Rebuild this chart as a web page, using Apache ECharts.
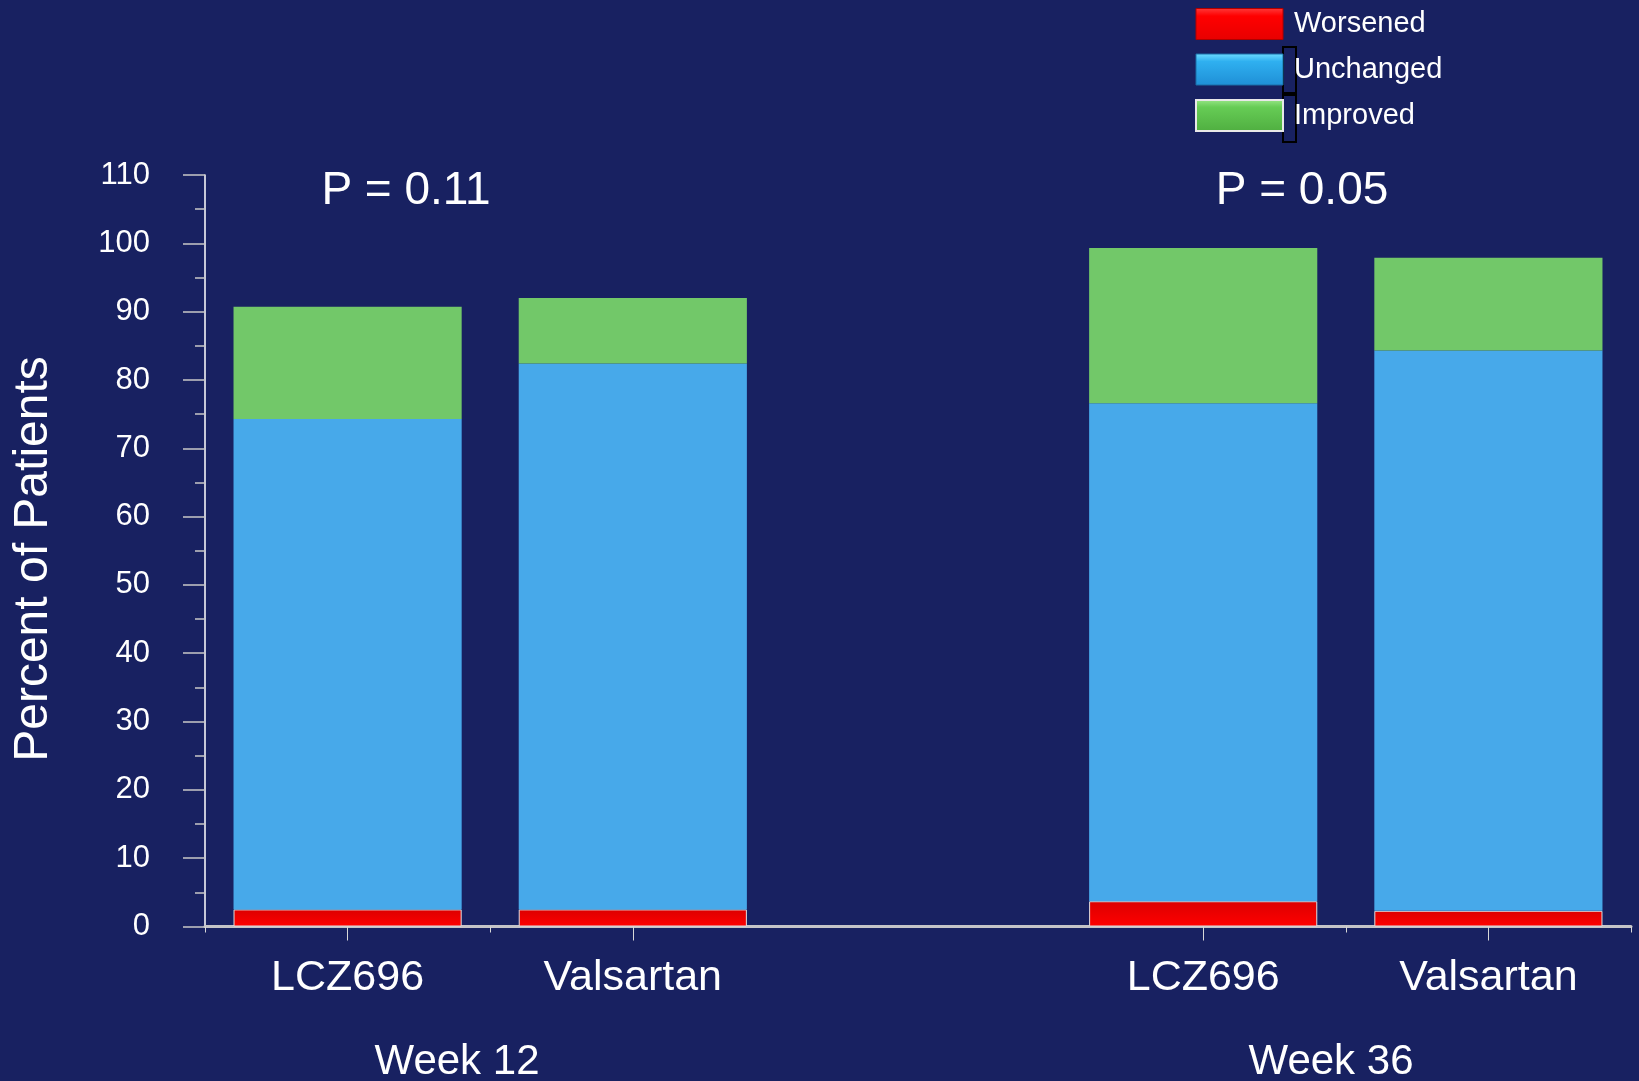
<!DOCTYPE html>
<html>
<head>
<meta charset="utf-8">
<script src="https://cdn.jsdelivr.net/npm/echarts@6/dist/echarts.min.js"></script>
<style>
  html, body { margin: 0; padding: 0; background: #182161; }
  #chart { width: 1639px; height: 1081px; }
</style>
</head>
<body>
<div id="chart"></div>
<script>
// Treatment arms (the blank slot separates the two visits)
const categories = ['LCZ696', 'Valsartan', '', 'LCZ696', 'Valsartan'];
const groupLabels = ['Week 12', 'Week 36'];
const pValues = ['P = 0.11', 'P = 0.05'];

// Percent of patients by change category
const worsened  = [2.5, 2.5, '-', 3.7, 2.3];
const unchanged = [71.8, 79.9, '-', 72.9, 82.0];
const improved  = [16.4, 9.6, '-', 22.7, 13.6];

const yTicks = { min: 0, max: 110, step: 10 };

const FONT = '"Liberation Sans", Arial, sans-serif';
const chart = echarts.init(document.getElementById('chart'));

const option = {
  backgroundColor: '#182161',
  animation: false,
  grid: { left: 205, right: 8, top: 175, bottom: 154.5, containLabel: false },
  legend: {
    orient: 'vertical',
    left: 1195,
    top: 8,
    padding: 0,
    itemWidth: 87,
    itemHeight: 31,
    itemGap: 13.5,
    textStyle: { color: '#ffffff', fontSize: 29, fontFamily: FONT, padding: [0, 0, 0, 6] },
    data: [
      { name: 'Worsened', icon: 'rect',
        itemStyle: { color: new echarts.graphic.LinearGradient(0, 0, 0, 1, [
          { offset: 0, color: '#ff3b3b' }, { offset: 0.25, color: '#ff0000' }, { offset: 1, color: '#e80000' }]),
          borderColor: '#b00000', borderWidth: 1 } },
      { name: 'Unchanged', icon: 'rect',
        itemStyle: { color: new echarts.graphic.LinearGradient(0, 0, 0, 1, [
          { offset: 0, color: '#6fdcff' }, { offset: 0.25, color: '#2fb0f0' }, { offset: 1, color: '#1f8fd6' }]),
          borderColor: '#1b6fa8', borderWidth: 1 } },
      { name: 'Improved', icon: 'rect',
        itemStyle: { color: new echarts.graphic.LinearGradient(0, 0, 0, 1, [
          { offset: 0, color: '#9be88a' }, { offset: 0.25, color: '#66cc55' }, { offset: 1, color: '#4fae40' }]),
          borderColor: '#e8e8e8', borderWidth: 2 } }
    ]
  },
  xAxis: [
    {
      type: 'category',
      data: categories,
      boundaryGap: true,
      axisLine: { show: true, lineStyle: { color: '#c4c4c8', width: 3 } },
      axisTick: {
        show: true, alignWithLabel: true, length: 14,
        interval: (idx, val) => val !== '',
        lineStyle: { color: '#d8d8d8', width: 1 }
      },
      axisLabel: { color: '#ffffff', fontSize: 43, fontFamily: FONT, margin: 30, interval: 0 },
      splitLine: { show: false }
    },
    {
      // boundary ticks between arms of the same visit
      type: 'value',
      min: 0, max: 5, interval: 1,
      position: 'bottom',
      axisLine: { show: false },
      axisTick: { show: true, length: 6, customValues: [0, 1, 4, 5], lineStyle: { color: '#d8d8d8', width: 1 } },
      axisLabel: { show: false },
      splitLine: { show: false }
    }
  ],
  yAxis: {
    type: 'value',
    min: yTicks.min, max: yTicks.max, interval: yTicks.step,
    axisLine: { show: true, lineStyle: { color: '#ffffff', width: 1.5 } },
    axisTick: { show: true, length: 22, lineStyle: { color: '#c8c8c8', width: 1.5 } },
    minorTick: { show: true, splitNumber: 2, length: 10, lineStyle: { color: '#c8c8c8', width: 1.5 } },
    axisLabel: { color: '#ffffff', fontSize: 31, fontFamily: FONT, margin: 55 },
    splitLine: { show: false }
  },
  series: [
    {
      name: 'Worsened', type: 'bar', stack: 'total', barWidth: '80%',
      data: worsened,
      itemStyle: {
        color: new echarts.graphic.LinearGradient(0, 0, 0, 1, [
          { offset: 0, color: '#dc0000' }, { offset: 1, color: '#ff0000' }]),
        borderColor: '#e0e0e0', borderWidth: 1
      }
    },
    {
      name: 'Unchanged', type: 'bar', stack: 'total', barWidth: '80%',
      data: unchanged,
      itemStyle: { color: '#47a9ea' }
    },
    {
      name: 'Improved', type: 'bar', stack: 'total', barWidth: '80%',
      data: improved,
      itemStyle: { color: '#72c869' }
    }
  ],
  graphic: [
    { type: 'text', x: 34, y: 559, rotation: Math.PI / 2,
      style: { text: 'Percent of Patients', fill: '#ffffff', font: '48px ' + FONT, align: 'center', verticalAlign: 'middle' } },
    { type: 'text', x: 406, y: 191,
      style: { text: pValues[0], fill: '#ffffff', font: '46px ' + FONT, align: 'center', verticalAlign: 'middle' } },
    { type: 'text', x: 1302, y: 191,
      style: { text: pValues[1], fill: '#ffffff', font: '46px ' + FONT, align: 'center', verticalAlign: 'middle' } },
    { type: 'text', x: 457, y: 1062,
      style: { text: groupLabels[0], fill: '#ffffff', font: '42px ' + FONT, align: 'center', verticalAlign: 'middle' } },
    { type: 'text', x: 1331, y: 1062,
      style: { text: groupLabels[1], fill: '#ffffff', font: '42px ' + FONT, align: 'center', verticalAlign: 'middle' } },
    { type: 'rect', shape: { x: 1283, y: 47, width: 13, height: 46 },
      style: { fill: 'none', stroke: '#000000', lineWidth: 2 } },
    { type: 'rect', shape: { x: 1283, y: 95, width: 13, height: 47 },
      style: { fill: 'none', stroke: '#000000', lineWidth: 2 } }
  ]
};

chart.setOption(option);
</script>
</body>
</html>
